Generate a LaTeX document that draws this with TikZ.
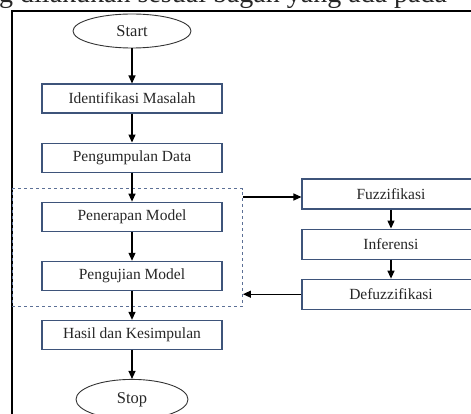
\documentclass[tikz,border=0pt]{standalone}
\usepackage{fontspec}
\setmainfont{Liberation Serif}
\usetikzlibrary{positioning, arrows.meta, shapes.geometric, calc, fit}

\definecolor{boxline}{RGB}{62,84,122}
\definecolor{dashline}{RGB}{92,112,150}

\begin{document}
\begin{tikzpicture}[
    x=1pt, y=1pt,
    node distance=29pt,
    every node/.style={font=\fontsize{15.5}{18}\selectfont, text=black!85},
    proses/.style={
        rectangle,
        draw=boxline,
        line width=1.1pt,
        minimum width=180pt,
        minimum height=29pt,
        inner sep=0pt
    },
    fuzzy/.style={proses, minimum width=178pt, minimum height=30pt},
    ujung/.style={
        ellipse,
        draw=black!80,
        line width=0.9pt,
        inner sep=0pt,
        font=\fontsize{16.5}{18}\selectfont
    },
    arrow/.style={-{Triangle[length=8pt, width=7pt]}, line width=1.2pt}
]
\useasboundingbox (0,0) rectangle (471,-414);
\clip (0,0) rectangle (471,-414);

% teks halaman dan bingkai
\node[anchor=base west, inner sep=0pt, font=\fontsize{28}{30}\selectfont] (judul) at (-1,-3)
    {g dilakukan sesuai bagan yang ada pada};
\draw[line width=1.5pt] (12,-500) rectangle (520,-11);

% alur utama
\node[ujung, minimum width=118pt, minimum height=34pt] (start) at (132,-31) {Start};
\node[proses, below=35pt of start] (ident) {Identifikasi Masalah};
\node[proses, below=of ident] (kumpul) {Pengumpulan Data};
\node[proses, below=of kumpul] (terap) {Penerapan Model};
\node[proses, below=of terap] (uji) {Pengujian Model};
\node[proses, below=of uji] (hasil) {Hasil dan Kesimpulan};
\node[ujung, minimum width=112pt, minimum height=40pt, below=29pt of hasil] (stop) {Stop};

% kotak model
\coordinate (mnw) at ($(terap.north west)+(-29,13)$);
\coordinate (mse) at ($(uji.south east)+(20,-16)$);
\node[draw=dashline, dashed, line width=0.8pt, inner sep=0pt, fit=(mnw)(mse)] (model) {};

% tahap fuzzy
\node[fuzzy] (fuzz) at (391,-194) {Fuzzifikasi};
\node[fuzzy, below=19pt of fuzz] (infer) {Inferensi};
\node[fuzzy, below=19pt of infer] (defuzz) {Defuzzifikasi};

% panah
\draw[arrow] (start) -- (ident);
\draw[arrow] (ident) -- (kumpul);
\draw[arrow] (kumpul) -- (terap);
\draw[arrow] (terap) -- (uji);
\draw[arrow] (uji) -- (hasil);
\draw[arrow] (hasil) -- (stop);
\draw[arrow] (fuzz) -- (infer);
\draw[arrow] (infer) -- (defuzz);

\draw[arrow] ([yshift=-3pt]fuzz.west -| model.east) -- ([yshift=-3pt]fuzz.west);
\draw[arrow] (defuzz.west) -- (defuzz.west -| model.east);

\end{tikzpicture}
\end{document}
